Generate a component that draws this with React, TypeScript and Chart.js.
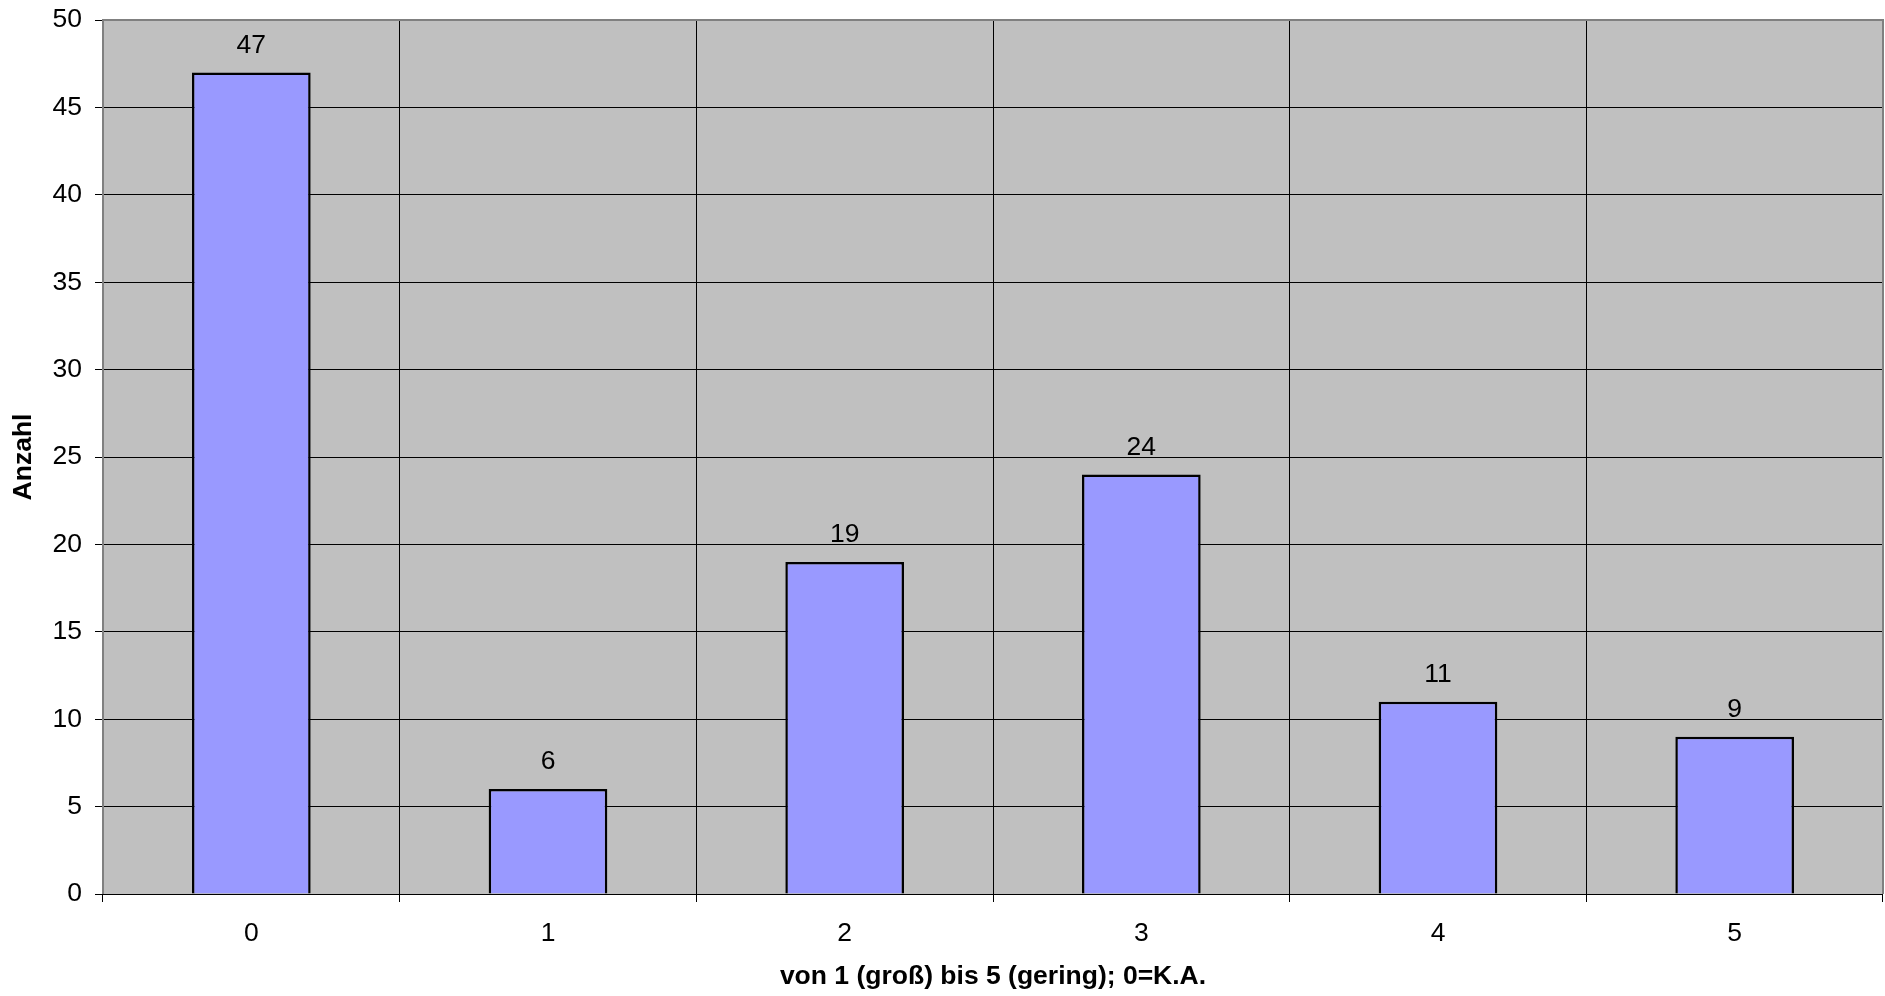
import React, { useEffect, useRef } from "react";
import { Chart, registerables } from "chart.js";

Chart.register(...registerables);

const categories = ["0", "1", "2", "3", "4", "5"];
const counts = [47, 6, 19, 24, 11, 9];
const yTitle = "Anzahl";
const xTitle = "von 1 (groß) bis 5 (gering); 0=K.A.";

const FONT = "'Liberation Sans', Arial, Helvetica, sans-serif";

const plotBg = {
  id: "plotBg",
  beforeDraw(chart: any) {
    const { ctx, chartArea } = chart;
    if (!chartArea) return;
    ctx.save();
    ctx.fillStyle = "#C0C0C0";
    ctx.fillRect(chartArea.left, chartArea.top, chartArea.right - chartArea.left, chartArea.bottom - chartArea.top);
    ctx.restore();
  },
  beforeDatasetsDraw(chart: any) {
    const { ctx, chartArea } = chart;
    ctx.save();
    ctx.strokeStyle = "#808080";
    ctx.lineWidth = 2;
    ctx.beginPath();
    ctx.moveTo(chartArea.left, chartArea.bottom);
    ctx.lineTo(chartArea.left, chartArea.top);
    ctx.lineTo(chartArea.right, chartArea.top);
    ctx.lineTo(chartArea.right, chartArea.bottom);
    ctx.stroke();
    ctx.strokeStyle = "#000";
    ctx.lineWidth = 1;
    ctx.beginPath();
    ctx.moveTo(chartArea.left, chartArea.bottom + 0.5);
    ctx.lineTo(chartArea.right, chartArea.bottom + 0.5);
    ctx.stroke();
    ctx.restore();
  },
};

const valueLabels = {
  id: "valueLabels",
  afterDatasetsDraw(chart: any) {
    const { ctx } = chart;
    const meta = chart.getDatasetMeta(0);
    ctx.save();
    ctx.fillStyle = "#000";
    ctx.font = `26.5px ${FONT}`;
    ctx.textAlign = "center";
    ctx.textBaseline = "middle";
    meta.data.forEach((bar: any, i: number) => {
      ctx.fillText(String(counts[i]), bar.x, bar.y - 27);
    });
    ctx.restore();
  },
};

export default function App() {
  const ref = useRef<HTMLCanvasElement | null>(null);
  useEffect(() => {
    if (!ref.current) return;
    const chart = new Chart(ref.current, {
      type: "bar",
      data: {
        labels: categories,
        datasets: [
          {
            data: counts,
            backgroundColor: "#9999FF",
            borderColor: "#000000",
            borderWidth: 2.5,
            categoryPercentage: 0.8,
            barPercentage: 0.5,
          },
        ],
      },
      options: {
        animation: false,
        responsive: true,
        maintainAspectRatio: false,
        layout: { padding: { top: 20, right: 2, left: 0, bottom: 0 } },
        plugins: {
          legend: { display: false },
          tooltip: { enabled: false },
        },
        scales: {
          x: {
            afterFit: (s: any) => {
              s.height = 102;
            },
            grid: {
              display: true,
              offset: true,
              color: "#000",
              lineWidth: 1,
              drawTicks: true,
              tickLength: 8,
              tickColor: "#000",
            },
            border: { display: false },
            ticks: {
              color: "#000",
              font: { family: FONT, size: 26.5 },
              padding: 16,
            },
            title: {
              display: true,
              text: xTitle,
              color: "#000",
              font: { family: FONT, size: 26.5, weight: "bold" },
              padding: { top: 0, bottom: 3 },
            },
          },
          y: {
            min: 0,
            max: 50,
            afterFit: (s: any) => {
              s.width = 103;
              s.paddingTop = 0;
              s.paddingBottom = 0;
            },
            ticks: {
              stepSize: 5,
              color: "#000",
              font: { family: FONT, size: 26.5 },
              padding: 13,
            },
            grid: {
              color: "#000",
              lineWidth: 1,
              drawTicks: true,
              tickLength: 8,
              tickColor: "#000",
            },
            border: { display: false },
            title: {
              display: true,
              text: yTitle,
              color: "#000",
              font: { family: FONT, size: 26.5, weight: "bold" },
              padding: { top: 8, bottom: 1 },
            },
          },
        },
      },
      plugins: [plotBg, valueLabels],
    });
    return () => chart.destroy();
  }, []);
  return (
    <div style={{ position: "fixed", left: 0, top: 0, width: 1885, height: 996, background: "#fff" }}>
      <canvas ref={ref} />
    </div>
  );
}
